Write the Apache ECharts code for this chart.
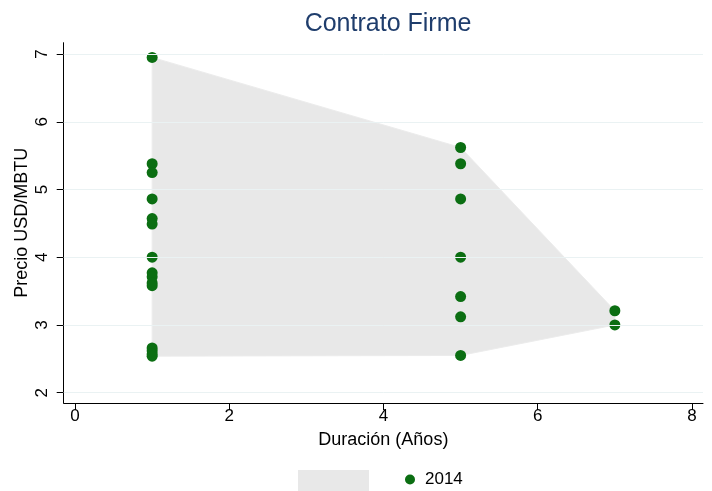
<!DOCTYPE html>
<html>
<head>
<meta charset="utf-8">
<script src="https://cdn.jsdelivr.net/npm/echarts@6/dist/echarts.min.js"></script>
<style>
  html, body { margin: 0; padding: 0; background: #ffffff; }
  #chart { width: 712px; height: 491px; }
</style>
</head>
<body>
<div id="chart"></div>
<script>
// Firm-contract prices (USD/MBTU) by contract length (years), 2014
const durations = [
  1, 1, 1, 1, 1, 1, 1, 1, 1, 1, 1, 1, 1, 1, 1,
  5, 5, 5, 5, 5, 5, 5,
  7, 7
];
const prices = [
  6.95, 5.38, 5.25, 4.86, 4.57, 4.49, 4.00, 3.77, 3.71, 3.62, 3.58, 2.66, 2.62, 2.57, 2.54,
  5.62, 5.38, 4.86, 4.00, 3.42, 3.12, 2.55,
  3.21, 3.00
];
const xTicks = [0, 2, 4, 6, 8];
const yTicks = [2, 3, 4, 5, 6, 7];
const seriesName = '2014';

const points = durations.map((d, i) => [d, prices[i]]);

// Convex hull (monotone chain) of the scatter points
function convexHull(pts) {
  const p = pts.slice().sort((a, b) => a[0] - b[0] || a[1] - b[1]);
  const cross = (o, a, b) => (a[0] - o[0]) * (b[1] - o[1]) - (a[1] - o[1]) * (b[0] - o[0]);
  const lower = [];
  for (const q of p) {
    while (lower.length >= 2 && cross(lower[lower.length - 2], lower[lower.length - 1], q) <= 0) lower.pop();
    lower.push(q);
  }
  const upper = [];
  for (let i = p.length - 1; i >= 0; i--) {
    const q = p[i];
    while (upper.length >= 2 && cross(upper[upper.length - 2], upper[upper.length - 1], q) <= 0) upper.pop();
    upper.push(q);
  }
  upper.pop(); lower.pop();
  return lower.concat(upper);
}
const hull = convexHull(points);

const FONT = '"Liberation Sans", Arial, Helvetica, sans-serif';
const GREEN = '#0b6e12';
const FILL = '#e8e8e8';
const GRID = '#eaf2f3';

const chart = echarts.init(document.getElementById('chart'), null, { renderer: 'canvas' });

chart.setOption({
  backgroundColor: '#ffffff',
  animation: false,
  title: {
    text: 'Contrato Firme',
    left: 383,
    top: 7,
    textAlign: 'center',
    textStyle: { fontFamily: FONT, fontSize: 25, fontWeight: 'normal', color: '#1f3d6c' }
  },
  legend: [
    {
      data: [{ name: 'hull', icon: 'rect' }],
      left: 293, top: 465,
      itemWidth: 71, itemHeight: 22,
      formatter: () => '',
      selectedMode: false,
      itemStyle: { color: FILL }
    },
    {
      data: [{ name: seriesName, icon: 'circle' }],
      left: 400, top: 466,
      itemWidth: 10, itemHeight: 10,
      selectedMode: false,
      textStyle: { fontFamily: FONT, fontSize: 17, color: '#000000', padding: [0, 0, 0, 5] }
    }
  ],
  grid: { left: 63.7, right: 9, top: 42.7, bottom: 88, containLabel: false },
  xAxis: {
    type: 'value',
    min: -0.147, max: 8.143,
    name: 'Duración (Años)',
    nameLocation: 'middle',
    nameGap: 28,
    nameMoveOverlap: false,
    nameTextStyle: { fontFamily: FONT, fontSize: 18, color: '#000000', verticalAlign: 'top' },
    axisLine: { show: true, onZero: false, lineStyle: { color: '#000000', width: 1 } },
    axisTick: { show: true, length: 7, lineStyle: { color: '#000000' }, customValues: xTicks },
    axisLabel: { fontFamily: FONT, fontSize: 17, color: '#000000', margin: 5, customValues: xTicks },
    splitLine: { show: false }
  },
  yAxis: {
    type: 'value',
    min: 1.848, max: 7.167,
    name: 'Precio USD/MBTU',
    nameLocation: 'middle',
    nameGap: 33,
    nameMoveOverlap: false,
    nameRotate: 90,
    nameTextStyle: { fontFamily: FONT, fontSize: 18, color: '#000000' },
    axisLine: { show: true, onZero: false, lineStyle: { color: '#000000', width: 1 } },
    axisTick: { show: true, length: 7, lineStyle: { color: '#000000' }, customValues: yTicks },
    axisLabel: { fontFamily: FONT, fontSize: 17, color: '#000000', margin: 13, rotate: 90, customValues: yTicks },
    splitLine: { show: false }
  },
  series: [
    {
      // horizontal gridlines at each y tick
      name: 'grid',
      type: 'line',
      data: [],
      silent: true,
      z: 0,
      markLine: {
        silent: true,
        symbol: 'none',
        label: { show: false },
        lineStyle: { color: GRID, type: 'solid', width: 1 },
        data: yTicks.map(v => ({ yAxis: v }))
      }
    },
    {
      name: 'hull',
      type: 'custom',
      z: 1,
      silent: true,
      itemStyle: { color: FILL },
      data: [0],
      renderItem: function (params, api) {
        const pts = hull.map(p => api.coord(p));
        return {
          type: 'polygon',
          shape: { points: pts },
          style: { fill: FILL, stroke: '#ececec', lineWidth: 1 }
        };
      }
    },
    {
      name: seriesName,
      type: 'scatter',
      z: 3,
      symbol: 'circle',
      symbolSize: 11,
      itemStyle: { color: GREEN, opacity: 1 },
      data: points
    }
  ]
});
</script>
</body>
</html>
